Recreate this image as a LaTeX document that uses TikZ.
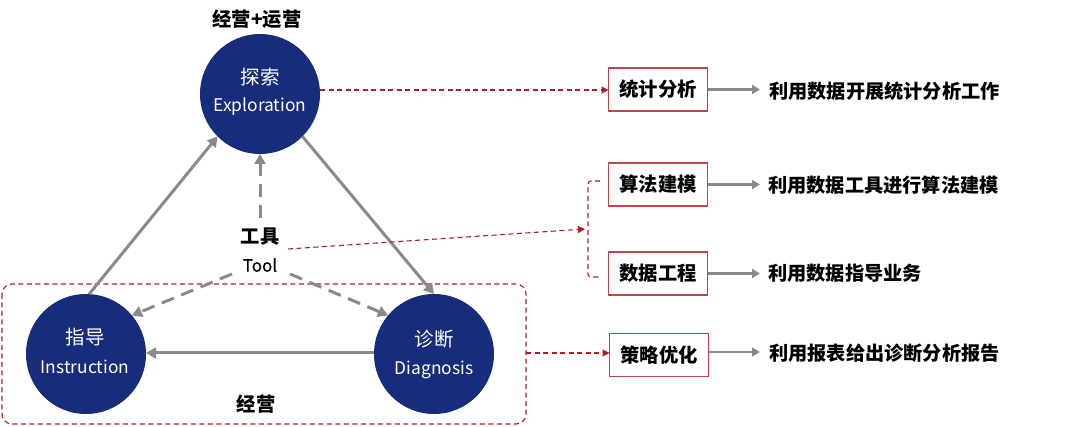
\documentclass[tikz,border=0pt]{standalone}
\usepackage{fontspec}
\setmainfont{Noto Sans CJK SC}
\newfontfamily\toolfont[FakeBold=0.25]{Noto Sans CJK SC}
\usetikzlibrary{arrows.meta}
\definecolor{navy}{HTML}{172C7A}
\definecolor{redline}{HTML}{B01C24}
\definecolor{boxline}{HTML}{C4424A}
\definecolor{arrowgrey}{HTML}{8A8A8A}
\newcommand{\zh}{\fontsize{19.5}{24}\selectfont}
\newcommand{\en}{\fontsize{17.4}{24}\selectfont}
\tikzset{
  disc/.style={circle,fill=navy,draw=none,minimum size=120pt,inner sep=0pt,outer sep=0pt},
  disctext/.style={inner sep=0pt,text=white},
  tag/.style={inner sep=0pt,font=\fontsize{19.3}{22}\selectfont\bfseries},
  tagen/.style={inner sep=0pt,font=\toolfont\fontsize{17}{20}\selectfont},
  desc/.style={inner sep=0pt,anchor=west,font=\fontsize{19.2}{22}\selectfont\bfseries},
  redbox/.style={draw=boxline,line width=1.3pt,fill=white,minimum width=99pt,minimum height=43pt,inner sep=0pt,outer sep=0pt,font=\fontsize{19.3}{22}\selectfont\bfseries},
  solidarrow/.style={draw=arrowgrey,line width=3pt,-{Triangle[length=10pt,width=11pt]}},
  dasharrow/.style={draw=arrowgrey,line width=3pt,dash pattern=on 13pt off 8pt,-{Triangle[length=10pt,width=11pt]}},
  boxarrow/.style={draw=arrowgrey,line width=2.7pt,-{Triangle[length=8pt,width=9pt]}},
  reddash/.style={draw=redline,line width=1.1pt,dash pattern=on 5pt off 3.5pt},
  redarrow/.style={reddash,-{Triangle[length=7pt,width=7pt]}}
}
\begin{document}
\begin{tikzpicture}[x=1pt,y=-1pt]
\useasboundingbox (0,0) rectangle (1080,427);
\node[disc] (explore) at (260,94) {};
\node[disc] (instr) at (86,354) {};
\node[disc] (diag) at (434,354) {};
\node[disctext,font=\zh] (t1a) at (260,77) {探索};
\node[disctext,font=\en] (t1b) at (260,106.5) {Exploration};
\node[disctext,font=\zh] (t2a) at (85,337) {指导};
\node[disctext,font=\en] (t2b) at (85,366.5) {Instruction};
\node[disctext,font=\zh] (t3a) at (434,339) {诊断};
\node[disctext,font=\en] (t3b) at (434,370) {Diagnosis};
\node[tag] (top) at (257,19) {经营+运营};
\node[tag] (tool) at (260,237) {工具};
\node[tagen] (tooleng) at (260,265) {Tool};
\node[tag] (bottom) at (256,404) {经营};
\draw[reddash,rounded corners=10pt] (2,284) rectangle (526,424);
\coordinate (framee) at (526,353);
\node[redbox] (b1) at (658,89.5) {统计分析};
\node[redbox] (b2) at (658,184.5) {算法建模};
\node[redbox] (b3) at (658,273.5) {数据工程};
\node[redbox] (b4) at (659,355) {策略优化};
\node[desc] (d1) at (769,91) {利用数据开展统计分析工作};
\node[desc] (d2) at (768,185) {利用数据工具进行算法建模};
\node[desc] (d3) at (768,273) {利用数据指导业务};
\node[desc] (d4) at (769,353) {利用报表给出诊断分析报告};
\draw[solidarrow] (instr.87) -- (explore.225);
\draw[solidarrow] (explore.-45) -- (diag.90);
\draw[solidarrow] (diag.west |- 0,353) -- (instr.east |- 0,353);
\draw[dasharrow] (260,218) -- (explore.south);
\draw[dasharrow] (232,274) -- (instr.40);
\draw[dasharrow] (290,274) -- (diag.140);
\draw[boxarrow] (b1.east) -- (760,89.5);
\draw[boxarrow] (b2.east) -- (760,184.5);
\draw[boxarrow] (b3.east) -- (760,273.5);
\draw[boxarrow] (b4.east |- 0,352) -- (760,352);
\coordinate (toolr) at (288,249);
\coordinate (bm) at (585,229);
\coordinate (bt) at (600,181);
\coordinate (bb) at (601,277);
\draw[redarrow] (explore.east |- 0,90) -- (b1.west |- 0,90);
\draw[redarrow] (toolr) -- (bm);
\draw[reddash,rounded corners=3pt] (bt) -- (588,181) -- (588,277) -- (bb);
\draw[redarrow] (framee) -- (b4.west |- 0,353);
\end{tikzpicture}
\end{document}
